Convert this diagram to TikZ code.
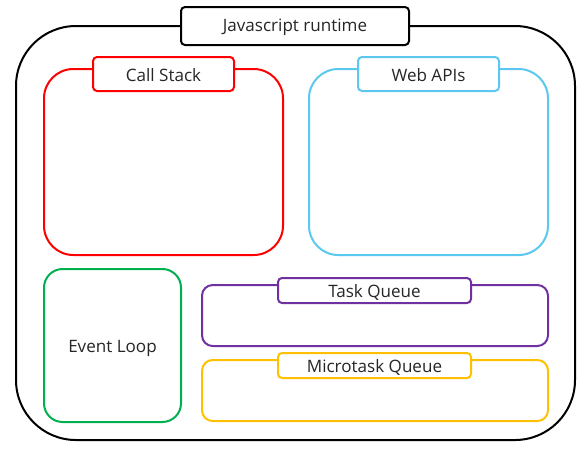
\documentclass[tikz,border=0pt]{standalone}
\usepackage{fontspec}
\setmainfont{Open Sans}
\definecolor{cred}{RGB}{255,0,0}
\definecolor{cblue}{RGB}{91,200,240}
\definecolor{cgreen}{RGB}{0,176,80}
\definecolor{cpurple}{RGB}{112,48,160}
\definecolor{cyellow}{RGB}{255,192,0}
\tikzset{
  frame/.style={line width=1.5pt, fill=white},
  lbl/.style={line width=1.5pt, fill=white, rounded corners=3pt},
  txt/.style={font=\fontsize{12.8}{15}\selectfont, text=black!85}
}
\begin{document}
\begin{tikzpicture}[x=0.75pt,y=-0.75pt]
\useasboundingbox (0,0) rectangle (585,455);
% outer runtime
\draw[frame, draw=black, rounded corners=45pt] (16,26) rectangle (575,440);
\draw[lbl, draw=black] (181,7) rectangle (409,45);
\node[txt] (rt) at (295,27) {Javascript runtime};
% call stack
\draw[frame, draw=cred, rounded corners=22pt] (44,69) rectangle (283,255);
\draw[lbl, draw=cred] (93,57) rectangle (234,91);
\node[txt] (cs) at (163.5,75) {Call Stack};
% web apis
\draw[frame, draw=cblue, rounded corners=22pt] (309,69) rectangle (548,255);
\draw[lbl, draw=cblue] (358,57) rectangle (499,91);
\node[txt] (wa) at (428.5,75) {Web APIs};
% event loop
\draw[frame, draw=cgreen, rounded corners=14pt] (44,269) rectangle (181,422);
\node[txt] (el) at (112.5,348) {Event Loop};
% task queue
\draw[frame, draw=cpurple, rounded corners=8pt] (202,285) rectangle (548,346);
\draw[lbl, draw=cpurple] (278,278) rectangle (471,303);
\node[txt] (tq) at (374.5,292) {Task Queue};
% microtask queue
\draw[frame, draw=cyellow, rounded corners=8pt] (202,360) rectangle (548,421);
\draw[lbl, draw=cyellow] (278,353) rectangle (471,378);
\node[txt] (mq) at (374.5,367) {Microtask Queue};
\end{tikzpicture}
\end{document}
